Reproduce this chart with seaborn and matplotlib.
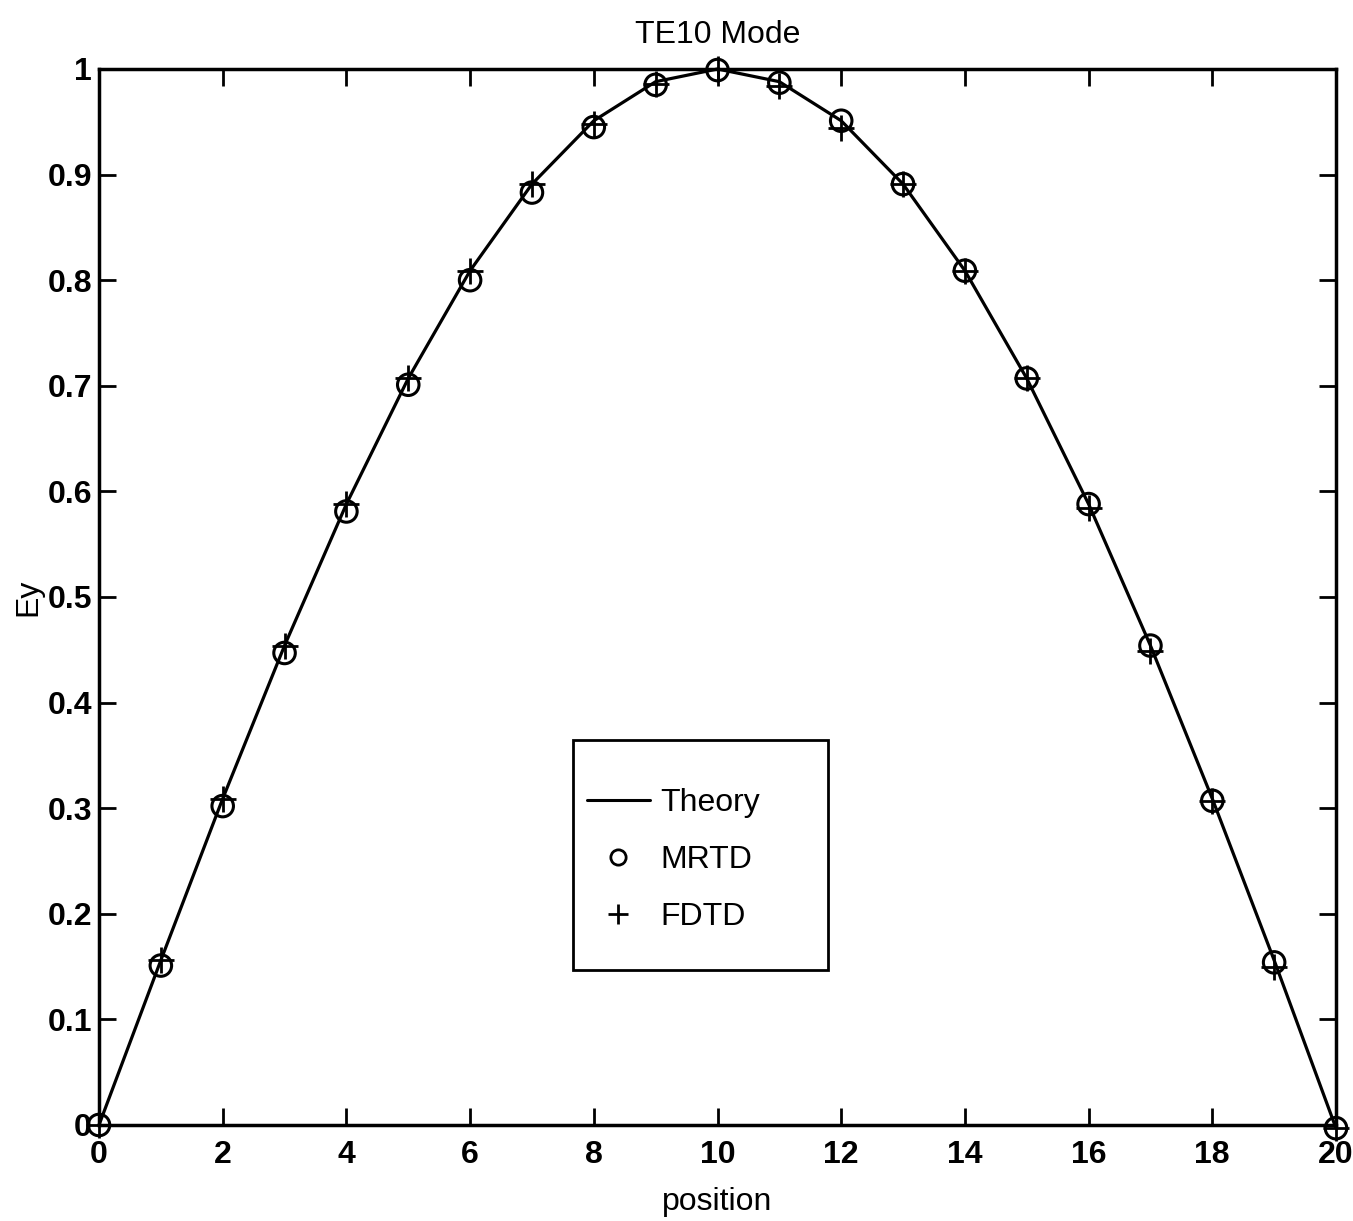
import matplotlib
matplotlib.use("Agg")
import matplotlib.pyplot as plt
from matplotlib.lines import Line2D
from matplotlib.patches import Rectangle
import pandas as pd
import seaborn as sns

# Field samples across the guide cross-section
position = list(range(21))
theory = [0.000, 0.156, 0.309, 0.454, 0.588, 0.707, 0.809, 0.891, 0.951, 0.988,
          1.000, 0.988, 0.951, 0.891, 0.809, 0.707, 0.588, 0.454, 0.309, 0.156, -0.003]
mrtd = [0.000, 0.151, 0.302, 0.447, 0.581, 0.701, 0.800, 0.883, 0.945, 0.985,
        0.999, 0.987, 0.951, 0.891, 0.809, 0.707, 0.588, 0.454, 0.307, 0.154, -0.003]
fdtd = [0.000, 0.156, 0.309, 0.454, 0.588, 0.707, 0.809, 0.891, 0.948, 0.986,
        1.000, 0.984, 0.944, 0.891, 0.809, 0.707, 0.584, 0.449, 0.307, 0.150, -0.003]

xticks = list(range(0, 21, 2))
yticks = [0, 0.1, 0.2, 0.3, 0.4, 0.5, 0.6, 0.7, 0.8, 0.9, 1]
ytick_labels = ["0", "0.1", "0.2", "0.3", "0.4", "0.5", "0.6", "0.7", "0.8", "0.9", "1"]

df = pd.DataFrame({"position": position, "Theory": theory, "MRTD": mrtd, "FDTD": fdtd})

sns.set_theme(style="white")
plt.rcParams["font.family"] = ["Liberation Sans", "DejaVu Sans"]
plt.rcParams["text.color"] = "black"
plt.rcParams["axes.labelcolor"] = "black"

W, H = 1353, 1221
L, R, T, B = 99, 1336, 69, 1125

fig = plt.figure(figsize=(W / 100, H / 100), dpi=100)
ax = fig.add_axes([L / W, (H - B) / H, (R - L) / W, (B - T) / H])

sns.lineplot(data=df, x="position", y="Theory", ax=ax, color="black",
             linewidth=2.3, legend=False, clip_on=False)
sns.scatterplot(data=df, x="position", y="MRTD", ax=ax, marker="o", s=240,
                facecolors="none", edgecolors="black", linewidths=2.2,
                legend=False, clip_on=False, zorder=3)
sns.scatterplot(data=df, x="position", y="FDTD", ax=ax, marker="+", s=330,
                color="black", linewidths=2.0, legend=False, clip_on=False, zorder=3)

ax.set_xlim(0, 20)
ax.set_ylim(0, 1)
ax.set_xticks(xticks)
ax.set_xticklabels([str(t) for t in xticks], fontsize=23, fontweight="bold")
ax.set_yticks(yticks)
ax.set_yticklabels(ytick_labels, fontsize=23, fontweight="bold")
ax.tick_params(direction="in", length=12, width=2, top=True, right=True,
               bottom=True, left=True, colors="black", labelcolor="black")
ax.tick_params(axis="x", pad=11)
ax.tick_params(axis="y", pad=5)

for sp in ax.spines.values():
    sp.set_visible(True)
    sp.set_color("black")
    sp.set_linewidth(2.5)

ax.set_xlabel("position", fontsize=23, labelpad=12)
ax.set_ylabel("Ey", fontsize=23, labelpad=3)
ax.set_title("TE10 Mode", fontsize=23, pad=19)

# Legend box
ax.add_patch(Rectangle(((573 - L) / (R - L), (B - 970) / (B - T)),
                       (828 - 573) / (R - L), (970 - 740) / (B - T),
                       transform=ax.transAxes, facecolor="white",
                       edgecolor="black", linewidth=2, zorder=4))

handles = [
    Line2D([], [], color="black", linewidth=2.2),
    Line2D([], [], linestyle="none", marker="o", markersize=11,
           markerfacecolor="none", markeredgecolor="black", markeredgewidth=2),
    Line2D([], [], linestyle="none", marker="+", markersize=14,
           markeredgecolor="black", markeredgewidth=2),
]
leg = ax.legend(handles, ["Theory", "MRTD", "FDTD"], loc="upper left",
                bbox_to_anchor=((587 - L) / (R - L), (B - 788) / (B - T)),
                fontsize=23, frameon=False, handlelength=1.97,
                handletextpad=0.32, borderpad=0, labelspacing=0.85,
                borderaxespad=0)
leg.set_zorder(5)

fig.savefig("out.png", dpi=100, facecolor="white")
